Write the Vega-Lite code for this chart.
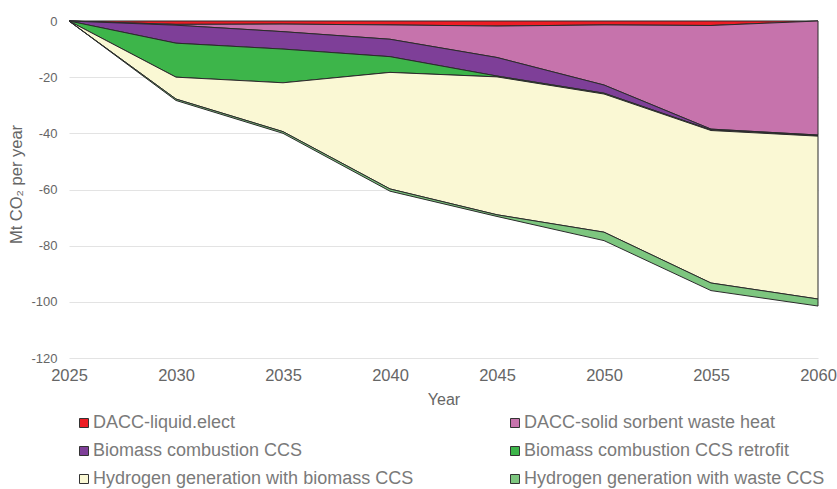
{
  "$schema": "https://vega.github.io/schema/vega-lite/v6.json",
  "width": 749,
  "height": 337,
  "autosize": {"type": "none"},
  "padding": {"left": 69, "top": 21, "right": 19, "bottom": 131},
  "background": "white",
  "config": {
    "font": "Liberation Sans",
    "view": {"stroke": null}
  },
  "data": {
    "values": [
      {"year": 2025, "k": 1, "tech": "DACC-liquid.elect", "v": 0},
      {"year": 2025, "k": 2, "tech": "DACC-solid sorbent waste heat", "v": 0},
      {"year": 2025, "k": 3, "tech": "Biomass combustion CCS", "v": 0},
      {"year": 2025, "k": 4, "tech": "Biomass combustion CCS retrofit", "v": 0},
      {"year": 2025, "k": 5, "tech": "Hydrogen generation with biomass CCS", "v": 0},
      {"year": 2025, "k": 6, "tech": "Hydrogen generation with waste CCS", "v": 0},

      {"year": 2030, "k": 1, "tech": "DACC-liquid.elect", "v": -1.2},
      {"year": 2030, "k": 2, "tech": "DACC-solid sorbent waste heat", "v": -0.3},
      {"year": 2030, "k": 3, "tech": "Biomass combustion CCS", "v": -6.4},
      {"year": 2030, "k": 4, "tech": "Biomass combustion CCS retrofit", "v": -12.1},
      {"year": 2030, "k": 5, "tech": "Hydrogen generation with biomass CCS", "v": -7.8},
      {"year": 2030, "k": 6, "tech": "Hydrogen generation with waste CCS", "v": -0.5},

      {"year": 2035, "k": 1, "tech": "DACC-liquid.elect", "v": -1.1},
      {"year": 2035, "k": 2, "tech": "DACC-solid sorbent waste heat", "v": -2.7},
      {"year": 2035, "k": 3, "tech": "Biomass combustion CCS", "v": -6.2},
      {"year": 2035, "k": 4, "tech": "Biomass combustion CCS retrofit", "v": -12.0},
      {"year": 2035, "k": 5, "tech": "Hydrogen generation with biomass CCS", "v": -17.4},
      {"year": 2035, "k": 6, "tech": "Hydrogen generation with waste CCS", "v": -0.6},

      {"year": 2040, "k": 1, "tech": "DACC-liquid.elect", "v": -1.4},
      {"year": 2040, "k": 2, "tech": "DACC-solid sorbent waste heat", "v": -5.1},
      {"year": 2040, "k": 3, "tech": "Biomass combustion CCS", "v": -6.2},
      {"year": 2040, "k": 4, "tech": "Biomass combustion CCS retrofit", "v": -5.6},
      {"year": 2040, "k": 5, "tech": "Hydrogen generation with biomass CCS", "v": -41.5},
      {"year": 2040, "k": 6, "tech": "Hydrogen generation with waste CCS", "v": -0.8},

      {"year": 2045, "k": 1, "tech": "DACC-liquid.elect", "v": -1.8},
      {"year": 2045, "k": 2, "tech": "DACC-solid sorbent waste heat", "v": -11.2},
      {"year": 2045, "k": 3, "tech": "Biomass combustion CCS", "v": -6.6},
      {"year": 2045, "k": 4, "tech": "Biomass combustion CCS retrofit", "v": -0.3},
      {"year": 2045, "k": 5, "tech": "Hydrogen generation with biomass CCS", "v": -49.1},
      {"year": 2045, "k": 6, "tech": "Hydrogen generation with waste CCS", "v": -0.6},

      {"year": 2050, "k": 1, "tech": "DACC-liquid.elect", "v": -1.4},
      {"year": 2050, "k": 2, "tech": "DACC-solid sorbent waste heat", "v": -21.4},
      {"year": 2050, "k": 3, "tech": "Biomass combustion CCS", "v": -2.9},
      {"year": 2050, "k": 4, "tech": "Biomass combustion CCS retrofit", "v": -0.3},
      {"year": 2050, "k": 5, "tech": "Hydrogen generation with biomass CCS", "v": -49.2},
      {"year": 2050, "k": 6, "tech": "Hydrogen generation with waste CCS", "v": -3.0},

      {"year": 2055, "k": 1, "tech": "DACC-liquid.elect", "v": -1.6},
      {"year": 2055, "k": 2, "tech": "DACC-solid sorbent waste heat", "v": -36.9},
      {"year": 2055, "k": 3, "tech": "Biomass combustion CCS", "v": -0.3},
      {"year": 2055, "k": 4, "tech": "Biomass combustion CCS retrofit", "v": -0.2},
      {"year": 2055, "k": 5, "tech": "Hydrogen generation with biomass CCS", "v": -54.3},
      {"year": 2055, "k": 6, "tech": "Hydrogen generation with waste CCS", "v": -2.7},

      {"year": 2060, "k": 1, "tech": "DACC-liquid.elect", "v": 0},
      {"year": 2060, "k": 2, "tech": "DACC-solid sorbent waste heat", "v": -40.6},
      {"year": 2060, "k": 3, "tech": "Biomass combustion CCS", "v": -0.2},
      {"year": 2060, "k": 4, "tech": "Biomass combustion CCS retrofit", "v": -0.2},
      {"year": 2060, "k": 5, "tech": "Hydrogen generation with biomass CCS", "v": -58.0},
      {"year": 2060, "k": 6, "tech": "Hydrogen generation with waste CCS", "v": -2.5}
    ]
  },
  "mark": {"type": "area", "stroke": "#2b2b2b", "strokeWidth": 1, "opacity": 1},
  "encoding": {
    "x": {
      "field": "year",
      "type": "quantitative",
      "scale": {"domain": [2025, 2060], "nice": false, "zero": false},
      "axis": {
        "values": [2025, 2030, 2035, 2040, 2045, 2050, 2055, 2060],
        "format": "d",
        "grid": false,
        "domain": false,
        "ticks": false,
        "labelFlush": false,
        "labelPadding": 9,
        "labelFontSize": 16.5,
        "labelColor": "#666666",
        "title": "Year",
        "titleFontSize": 16,
        "titleFontWeight": "normal",
        "titleColor": "#666666",
        "titlePadding": 8
      }
    },
    "y": {
      "field": "v",
      "type": "quantitative",
      "stack": "zero",
      "scale": {"domain": [-120, 0], "nice": false},
      "axis": {
        "values": [-120, -100, -80, -60, -40, -20, 0],
        "labelExpr": "'' + datum.value",
        "grid": true,
        "gridColor": "#e3e3e3",
        "gridWidth": 1,
        "domain": false,
        "ticks": false,
        "labelPadding": 12,
        "labelFontSize": 13,
        "labelColor": "#666666",
        "title": "Mt CO₂ per year",
        "titleFontSize": 16.5,
        "titleFontWeight": "normal",
        "titleColor": "#666666",
        "titlePadding": 6,
        "titleY": 163
      }
    },
    "order": {"field": "k", "type": "quantitative", "sort": "ascending"},
    "color": {
      "field": "tech",
      "type": "nominal",
      "sort": null,
      "scale": {
        "domain": [
          "DACC-liquid.elect",
          "DACC-solid sorbent waste heat",
          "Biomass combustion CCS",
          "Biomass combustion CCS retrofit",
          "Hydrogen generation with biomass CCS",
          "Hydrogen generation with waste CCS"
        ],
        "range": ["#ED1C24", "#C673AC", "#7E3F98", "#3DB54A", "#FAF8D4", "#7DC67F"]
      },
      "legend": {
        "title": null,
        "orient": "none",
        "legendX": 6,
        "legendY": 393,
        "direction": "horizontal",
        "columns": 2,
        "columnPadding": 92,
        "rowPadding": 10,
        "symbolType": "square",
        "symbolSize": 81,
        "symbolStrokeColor": "#333333",
        "symbolStrokeWidth": 1,
        "symbolOpacity": 1,
        "labelFontSize": 18,
        "labelColor": "#7a7a7a",
        "labelOffset": 0,
        "labelLimit": 500
      }
    }
  }
}
